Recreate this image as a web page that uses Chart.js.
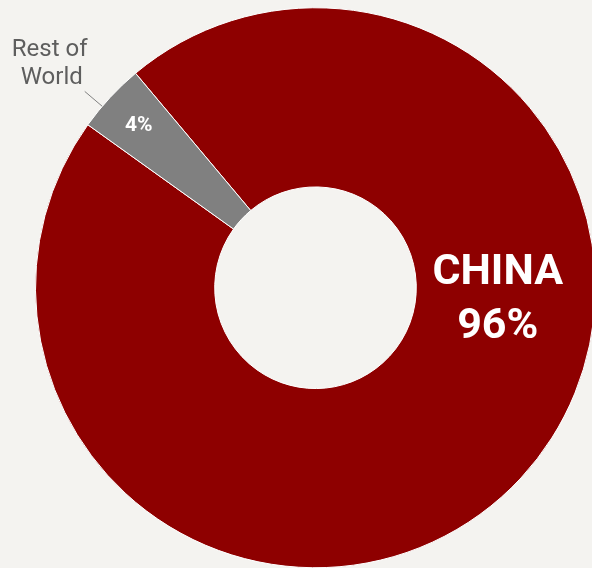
<!DOCTYPE html>
<html>
<head>
<meta charset="utf-8">
<script src="https://cdn.jsdelivr.net/npm/chart.js@4/dist/chart.umd.min.js"></script>
<style>
  html, body { margin: 0; padding: 0; background: #f4f3f0; }
  #wrap { width: 592px; height: 568px; overflow: hidden; position: relative; }
  canvas { display: block; }
</style>
</head>
<body>
<div id="wrap"><canvas id="chart" width="592" height="568"></canvas></div>
<script>
// Share of production by origin
const categories = ['China', 'Rest of World'];
const shares = [96, 4];
const sliceColors = ['#8e0000', '#808080'];

// Labels drawn onto the ring: big white label inside the China slice,
// small white value inside the grey slice and an outside callout for it.
const ringLabels = {
  id: 'ringLabels',
  afterDatasetsDraw(chart) {
    const ctx = chart.ctx;
    const arcs = chart.getDatasetMeta(0).data;
    const china = arcs[0].getProps(['x', 'y', 'startAngle', 'endAngle', 'innerRadius', 'outerRadius'], true);
    const rest = arcs[1].getProps(['x', 'y', 'startAngle', 'endAngle', 'innerRadius', 'outerRadius'], true);
    const polar = (a, ang, r) => ({ x: a.x + Math.cos(ang) * r, y: a.y + Math.sin(ang) * r });

    ctx.save();
    ctx.textAlign = 'center';
    ctx.textBaseline = 'alphabetic';

    // China: name and share, on the right side of the ring
    const midR = (china.innerRadius + china.outerRadius) / 2 - 8;
    const pc = polar(china, 0.045, midR);
    ctx.fillStyle = '#ffffff';
    ctx.font = '700 43px Roboto';
    ctx.fillText(categories[0].toUpperCase(), pc.x, pc.y - 12);
    ctx.fillText(shares[0] + '%', pc.x, pc.y + 42);

    // Rest of world: value inside the slice
    const restMid = (rest.startAngle + rest.endAngle) / 2;
    const pr = polar(rest, restMid, rest.outerRadius - 39);
    ctx.font = '700 21px Roboto';
    ctx.fillText(shares[1] + '%', pr.x, pr.y + 7);

    // Callout line and name outside the ring
    const calloutAng = restMid - 0.042;
    const l0 = polar(rest, calloutAng, rest.outerRadius);
    const l1 = polar(rest, calloutAng, rest.outerRadius + 23);
    ctx.strokeStyle = '#808080';
    ctx.lineWidth = 1;
    ctx.beginPath();
    ctx.moveTo(l0.x, l0.y);
    ctx.lineTo(l1.x, l1.y);
    ctx.stroke();

    const pt = polar(rest, calloutAng, rest.outerRadius + 69);
    ctx.fillStyle = '#5e5e5e';
    ctx.font = '400 24px Roboto';
    ctx.fillText('Rest of', pt.x, pt.y - 6);
    ctx.fillText('World', pt.x + 2, pt.y + 22);
    ctx.restore();
  }
};

new Chart(document.getElementById('chart'), {
  type: 'doughnut',
  data: {
    labels: categories,
    datasets: [{
      data: shares,
      backgroundColor: sliceColors,
      borderColor: '#ffffff',
      borderWidth: 1,
      clip: false
    }]
  },
  options: {
    responsive: false,
    animation: false,
    rotation: -40,
    radius: 280,
    cutout: '36%',
    layout: { padding: { left: 39, top: 7.5, right: 0, bottom: 0 } },
    plugins: {
      legend: { display: false },
      tooltip: { enabled: false }
    }
  },
  plugins: [ringLabels]
});
</script>
</body>
</html>
